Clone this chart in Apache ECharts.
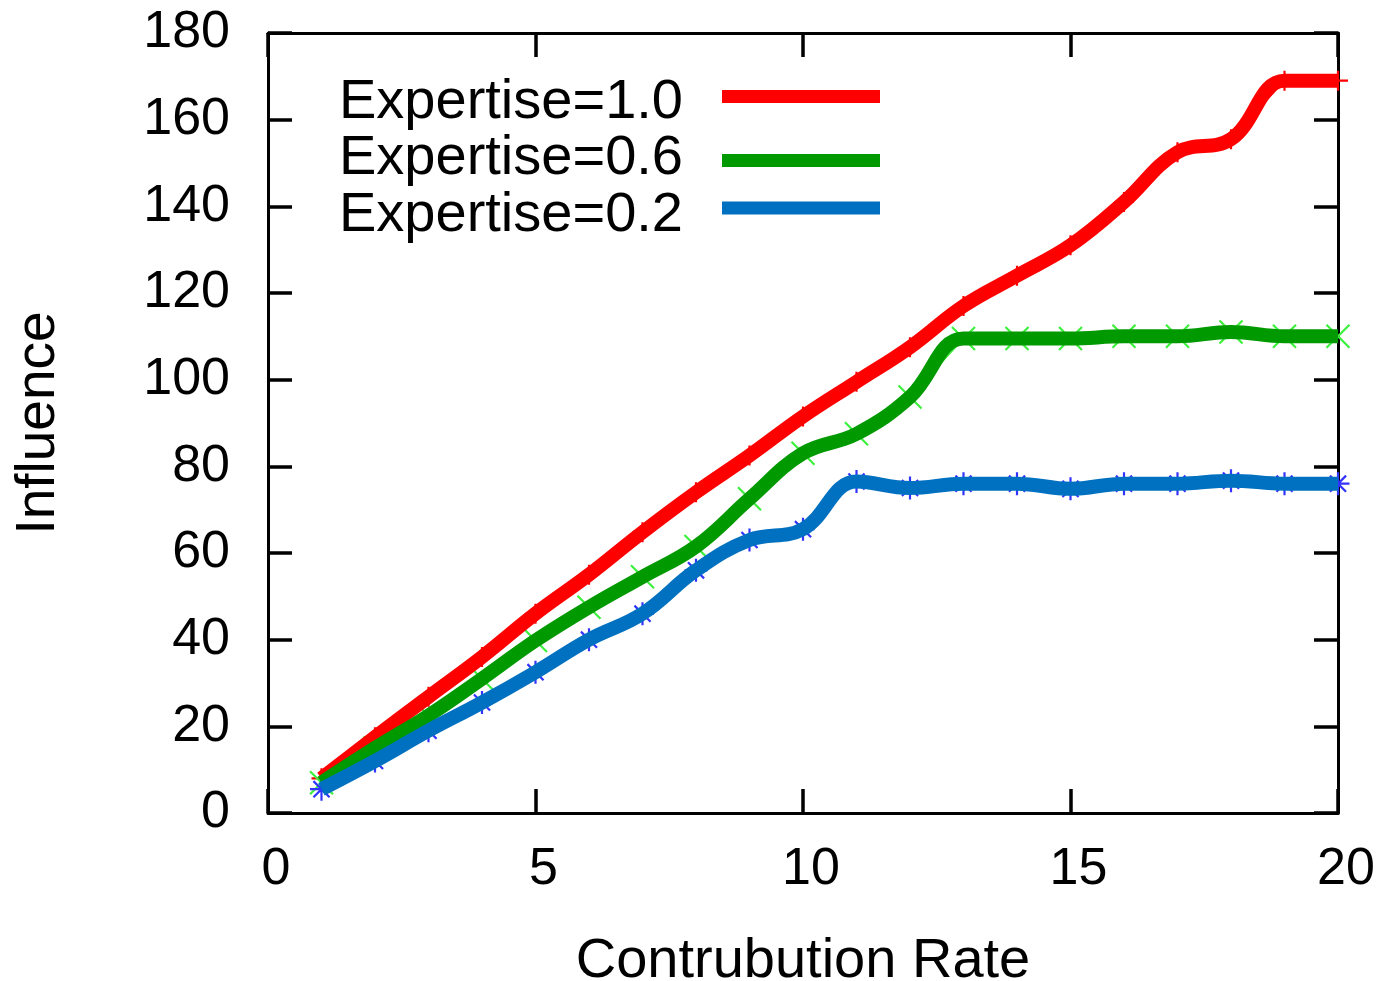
<!DOCTYPE html>
<html>
<head>
<meta charset="utf-8">
<script src="https://cdn.jsdelivr.net/npm/echarts@6/dist/echarts.min.js"></script>
<style>
html,body{margin:0;padding:0;background:#fff;}
#chart{width:1380px;height:981px;}
</style>
</head>
<body>
<div id="chart"></div>
<script>
var contributionRate = [1,2,3,4,5,6,7,8,9,10,11,12,13,14,15,16,17,18,19,20];
var expertise10 = [8,17.5,26.8,36,46,55,64.8,74,82.5,91.5,99.5,107.5,117,124,131,141,152.5,155.5,169,169];
var expertise06 = [7,15,22.5,31,39.8,47.5,54.5,61.5,72.5,83,87.5,96,109.5,109.5,109.5,110,110,111,110,110];
var expertise02 = [5.5,12,19,25.5,32.5,40,46,56,63,65.5,76.5,75,76,76,74.8,76,76,76.7,76,76];
var xTicks = [0,5,10,15,20];
var yTicks = [0,20,40,60,80,100,120,140,160,180];
var seriesNames = ['Expertise=1.0','Expertise=0.6','Expertise=0.2'];

function pairs(xs, ys){ return xs.map(function(x,i){ return [x, ys[i]]; }); }

var FONT = '"Liberation Sans", Arial, sans-serif';
var thickColors = ['#ff0000','#009900','#0070c0'];
var markColors = ['#ff0000','#3cf03c','#3333ff'];
var markSymbols = [
  'path://M0,10L20,10M10,0L10,20',
  'path://M0,0L20,20M20,0L0,20',
  'path://M10,0L10,20M0,10L20,10M3,3L17,17M17,3L3,17'
];
var markSizes = [20,23,23];
var dataSets = [expertise10, expertise06, expertise02];

var series = [];
dataSets.forEach(function(d, i){
  series.push({
    name: seriesNames[i] + ' points',
    type: 'line',
    data: pairs(contributionRate, d),
    symbol: markSymbols[i],
    symbolSize: markSizes[i],
    showSymbol: true,
    itemStyle: {color: markColors[i], borderColor: markColors[i], borderWidth: 2.2},
    lineStyle: {color: markColors[i], width: 1.5, type: i === 2 ? [6,6] : 'solid'},
    z: 2,
    silent: true
  });
});
dataSets.forEach(function(d, i){
  series.push({
    name: seriesNames[i],
    type: 'line',
    data: pairs(contributionRate, d),
    smooth: 0.4,
    showSymbol: false,
    symbol: 'none',
    itemStyle: {color: thickColors[i]},
    lineStyle: {color: thickColors[i], width: 14, cap: 'butt', join: 'round'},
    z: 3 + i,
    silent: true
  });
});

var legendRows = [
  {name: seriesNames[0], top: 70, pad: [13,34,0,0]},
  {name: seriesNames[1], top: 126, pad: [0,34,3,0]},
  {name: seriesNames[2], top: 183, pad: [16,34,0,0]}
];
var legends = legendRows.map(function(r){
  return {
    data: [r.name],
    right: 495,
    top: r.top,
    orient: 'vertical',
    align: 'right',
    icon: 'rect',
    itemWidth: 158,
    itemHeight: 13,
    selectedMode: false,
    formatter: '{t|{name}}',
    textStyle: {
      fontSize: 56, fontFamily: FONT, color: '#000',
      rich: {t: {fontSize: 56, fontFamily: FONT, color: '#000', padding: r.pad}}
    }
  };
});

var axisLine = {show: true, onZero: false, lineStyle: {color: '#000', width: 3}};
var tickIn = {show: true, inside: true, length: 24, lineStyle: {color: '#000', width: 3.5}};

var chart = echarts.init(document.getElementById('chart'), null, {renderer: 'canvas'});
chart.setOption({
  animation: false,
  backgroundColor: '#fff',
  grid: {left: 268, right: 42, top: 33, bottom: 168, containLabel: false, outerBoundsMode: 'none'},
  legend: legends,
  xAxis: [{
    type: 'value', min: xTicks[0], max: xTicks[xTicks.length-1], interval: 5,
    position: 'bottom',
    name: 'Contrubution Rate', nameLocation: 'middle', nameGap: 121,
    nameTextStyle: {fontSize: 56, fontFamily: FONT, color: '#000'},
    axisLine: axisLine, axisTick: tickIn,
    axisLabel: {fontSize: 52, fontFamily: FONT, color: '#000', margin: 31, padding: [0,0,0,16]},
    splitLine: {show: false}
  },{
    type: 'value', min: xTicks[0], max: xTicks[xTicks.length-1], interval: 5,
    position: 'top',
    axisLine: axisLine, axisTick: tickIn, axisLabel: {show: false}, splitLine: {show: false}
  }],
  yAxis: [{
    type: 'value', min: yTicks[0], max: yTicks[yTicks.length-1], interval: 20,
    position: 'left',
    name: 'Influence', nameLocation: 'middle', nameGap: 202,
    nameTextStyle: {fontSize: 55, fontFamily: FONT, color: '#000'},
    axisLine: axisLine, axisTick: tickIn,
    axisLabel: {fontSize: 52, fontFamily: FONT, color: '#000', margin: 38},
    splitLine: {show: false}
  },{
    type: 'value', min: yTicks[0], max: yTicks[yTicks.length-1], interval: 20,
    position: 'right',
    axisLine: axisLine, axisTick: tickIn, axisLabel: {show: false}, splitLine: {show: false}
  }],
  series: series
});
</script>
</body>
</html>
